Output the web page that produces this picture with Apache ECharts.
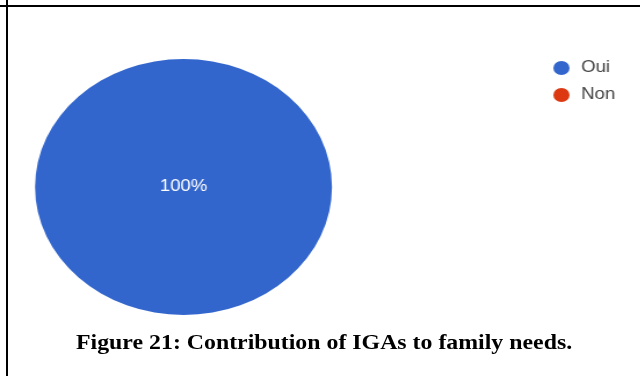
<!DOCTYPE html>
<html>
<head>
<meta charset="utf-8">
<script src="https://cdn.jsdelivr.net/npm/echarts@6/dist/echarts.min.js"></script>
<style>
	html, body { margin: 0; padding: 0; background: #fff; }
	#page { position: relative; width: 640px; height: 376px; overflow: hidden; background: #fff; }
	/* the source chart is stretched sideways, so the pie is drawn round and widened */
	#chart { position: absolute; left: 0; top: 0; width: 552px; height: 376px; transform: scaleX(1.16); transform-origin: 0 0; }
	.rule-top { position: absolute; left: 0; top: 5px; width: 640px; height: 2px; background: #000; }
	.rule-left { position: absolute; left: 6px; top: 0; width: 2px; height: 376px; background: #000; }
	#caption { position: absolute; left: 76px; top: 330px; white-space: nowrap; transform: scaleX(1.135); transform-origin: 0 0;
		font-family: "Liberation Serif", "Times New Roman", serif; font-weight: bold; font-size: 21px; line-height: 24px; color: #000; }
</style>
</head>
<body>
<div id="page">
	<div id="chart"></div>
	<div class="rule-top"></div>
	<div class="rule-left"></div>
	<div id="caption">Figure 21: Contribution of IGAs to family needs.</div>
</div>
<script>
	var categories = ['Oui', 'Non'];
	var values = [100, 0];
	var colors = ['#3366cc', '#dc3912'];

	var myChart = echarts.init(document.getElementById('chart'));

	var pieData = categories.map(function (name, i) {
		return {
			name: name,
			value: values[i],
			itemStyle: { color: colors[i] },
			label: { show: values[i] > 0 }
		};
	});

	var option = {
		animation: false,
		legend: {
			orient: 'vertical',
			left: 477,
			top: 60,
			padding: 0,
			icon: 'circle',
			itemWidth: 14,
			itemHeight: 14,
			itemGap: 11,
			data: categories,
			textStyle: {
				fontFamily: 'Arial, "Liberation Sans", sans-serif',
				fontSize: 16,
				color: '#444',
				lineHeight: 14,
				padding: [0, 0, 0, 5]
			}
		},
		series: [{
			type: 'pie',
			center: [158.2, 187],
			radius: 128,
			startAngle: 90,
			stillShowZeroSum: true,
			silent: true,
			itemStyle: { borderWidth: 0 },
			labelLine: { show: false },
			label: {
				position: 'center',
				formatter: '{d}%',
				color: '#fff',
				fontFamily: 'Arial, "Liberation Sans", sans-serif',
				fontSize: 16
			},
			data: pieData
		}]
	};

	myChart.setOption(option);
</script>
</body>
</html>
